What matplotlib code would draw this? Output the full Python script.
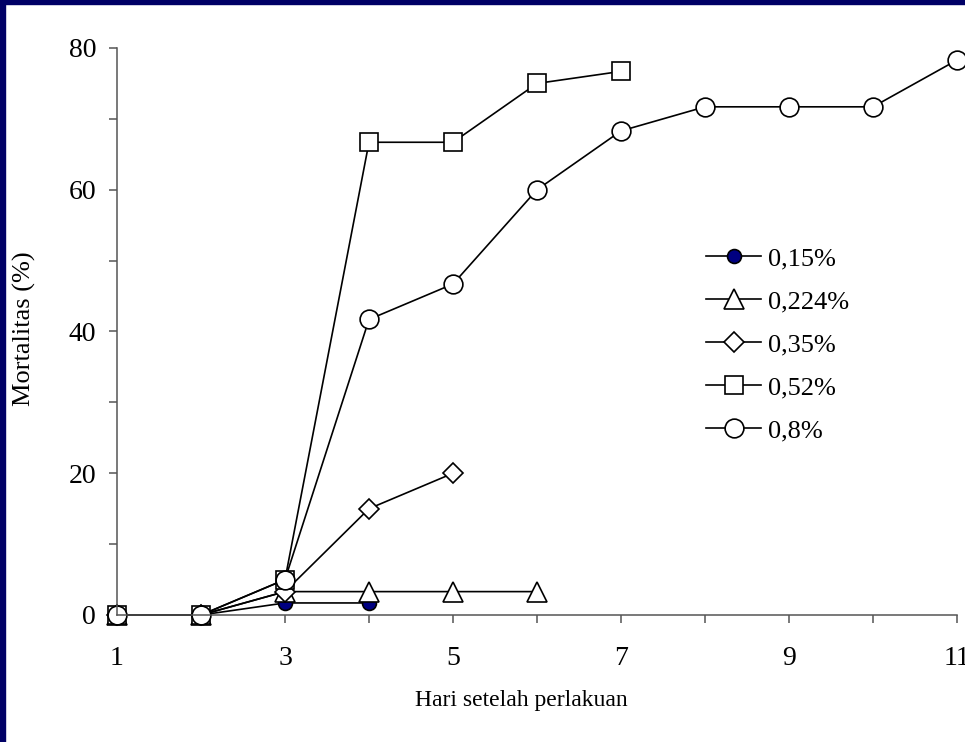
import matplotlib
matplotlib.use("Agg")
import matplotlib.pyplot as plt
from matplotlib.patches import Rectangle
from matplotlib.ticker import MultipleLocator, FixedLocator

plt.rcParams['font.family'] = ['Liberation Serif', 'DejaVu Serif']

# Mortality (%) per day after treatment, one series per concentration
days_015 = [1, 2, 3, 4]
mort_015 = [0, 0, 1.7, 1.7]

days_0224 = [1, 2, 3, 4, 5, 6]
mort_0224 = [0, 0, 3.3, 3.3, 3.3, 3.3]

days_035 = [1, 2, 3, 4, 5]
mort_035 = [0, 0, 3.3, 15, 20]

days_052 = [1, 2, 3, 4, 5, 6, 7]
mort_052 = [0, 0, 5, 66.7, 66.7, 75, 76.7]

days_08 = [1, 2, 3, 4, 5, 6, 7, 8, 9, 10, 11]
mort_08 = [0, 0, 5, 41.7, 46.7, 60, 68.3, 71.7, 71.7, 71.7, 78.3]

labels = ['0,15%', '0,224%', '0,35%', '0,52%', '0,8%']
x_ticks = [1, 3, 5, 7, 9, 11]
y_ticks = [0, 20, 40, 60, 80]

W, H = 965, 742
fig = plt.figure(figsize=(W / 100, H / 100), dpi=100)
fig.patch.set_facecolor('white')

# navy frame strips on the left and top edges
navy = '#000066'
fig.add_artist(Rectangle((0, 0), 5 / W, 1, transform=fig.transFigure, color=navy, zorder=10))
fig.add_artist(Rectangle((0, 1 - 4 / H), 1, 4 / H, transform=fig.transFigure, color=navy, zorder=10))

ax = fig.add_axes([117 / W, 1 - 615 / H, (957 - 117) / W, (615 - 48) / H])

lw = 1.2
mew = 1.2
common = dict(color='black', lw=lw, mec='black', mew=mew, clip_on=False)
ax.plot(days_015, mort_015, marker='o', ms=10, mfc='#000080', label=labels[0], **common)
ax.plot(days_0224, mort_0224, marker='^', ms=14.5, mfc='white', label=labels[1], **common)
ax.plot(days_035, mort_035, marker='D', ms=10, mfc='white', label=labels[2], **common)
ax.plot(days_052, mort_052, marker='s', ms=12.5, mfc='white', label=labels[3], **common)
ax.plot(days_08, mort_08, marker='o', ms=13.5, mfc='white', label=labels[4], **common)

ax.set_xlim(1, 11)
ax.set_ylim(0, 80)

ax.xaxis.set_major_locator(FixedLocator(x_ticks))
ax.xaxis.set_minor_locator(MultipleLocator(1))
ax.yaxis.set_major_locator(FixedLocator(y_ticks))
ax.yaxis.set_minor_locator(MultipleLocator(10))

spine_col = '#555555'
for s in ['top', 'right']:
    ax.spines[s].set_visible(False)
for s in ['left', 'bottom']:
    ax.spines[s].set_color(spine_col)
    ax.spines[s].set_linewidth(1.1)

ax.tick_params(axis='both', which='both', direction='out', length=6, width=1.1, color=spine_col)
ax.tick_params(axis='y', which='major', labelsize=20, pad=9)
ax.tick_params(axis='x', which='major', labelsize=20, pad=16)

ax.set_xlabel('Hari setelah perlakuan', fontsize=17)
ax.set_ylabel('Mortalitas (%)', fontsize=19)
ax.xaxis.set_label_coords((521 - 117) / (957 - 117), -(690 - 615) / (615 - 48))
ax.yaxis.set_label_coords(-(117 - 36) / (957 - 117), (615 - 329) / (615 - 48))

leg = ax.legend(loc='upper left', bbox_to_anchor=((706 - 117) / (957 - 117), (615 - 247) / (615 - 48)),
                frameon=False, fontsize=19, handlelength=2.1, handletextpad=0.25,
                labelspacing=0.74, borderaxespad=0, borderpad=0)

fig.savefig('out.png', dpi=100, facecolor='white')
